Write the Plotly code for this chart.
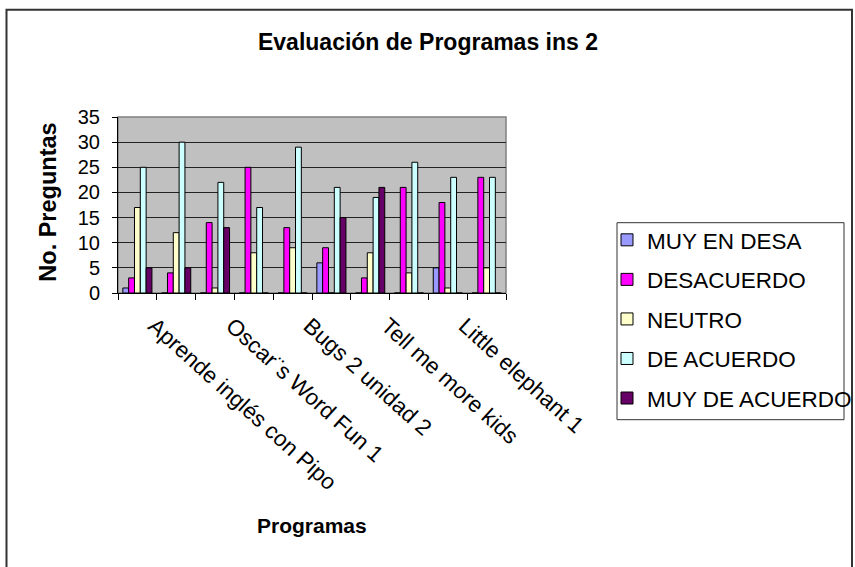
import plotly.graph_objects as go

# ---- data ----
categories = ["Aprende inglés con Pipo", "Programa 2", "Oscar¨s Word Fun 1", "Programa 4",
              "Bugs 2 unidad 2", "Programa 6", "Tell me more kids", "Programa 8",
              "Little elephant 1", "Programa 10"]
tick_labels = ["Aprende inglés con Pipo", "", "Oscar¨s Word Fun 1", "",
               "Bugs 2 unidad 2", "", "Tell me more kids", "",
               "Little elephant 1", ""]
series_names = ["MUY EN DESA", "DESACUERDO", "NEUTRO", "DE ACUERDO", "MUY DE ACUERDO"]
muy_en_desa = [1, 0, 0, 0, 0, 6, 0, 0, 5, 0]
desacuerdo = [3, 4, 14, 25, 13, 9, 3, 21, 18, 23]
neutro = [17, 12, 1, 8, 9, 0, 8, 4, 1, 5]
de_acuerdo = [25, 30, 22, 17, 29, 21, 19, 26, 23, 23]
muy_de_acuerdo = [5, 5, 13, 0, 0, 15, 21, 0, 0, 0]
y_ticks = [0, 5, 10, 15, 20, 25, 30, 35]

series_values = [muy_en_desa, desacuerdo, neutro, de_acuerdo, muy_de_acuerdo]
colors = ["#9999FF", "#FF00FF", "#FFFFCC", "#CCFFFF", "#660066"]

FONT = "Arial, Liberation Sans, sans-serif"
W, H = 855, 567
L, R, T, B = 118, 506, 117.3, 293.3


def px_x(px):
    return (px - L) / (R - L)


def px_y(py):
    return (B - py) / (B - T)


fig = go.Figure()
for name, vals, col in zip(series_names, series_values, colors):
    fig.add_trace(go.Bar(
        x=categories, y=vals, name=name, legendgroup=name,
        marker=dict(color=col, line=dict(color="#000000", width=1)),
    ))

fig.update_layout(
    width=W, height=H,
    margin=dict(l=L, r=W - R, t=T, b=H - B, pad=0, autoexpand=False),
    paper_bgcolor="white",
    plot_bgcolor="#C0C0C0",
    barmode="group", bargap=0.25, bargroupgap=0,
    font=dict(family=FONT, color="#000000"),
    title=dict(text="<b>Evaluación de Programas ins 2</b>", x=428 / W, xanchor="center",
               y=1 - 42 / H, yanchor="middle", yref="container",
               font=dict(size=23, family=FONT, color="#000000")),
    showlegend=True,
    legend=dict(x=px_x(607), y=px_y(420), xanchor="left", yanchor="bottom",
                xref="paper", yref="paper",
                font=dict(size=22.5, family=FONT, color="#000000"),
                bgcolor="rgba(0,0,0,0)", borderwidth=0,
                traceorder="grouped", tracegroupgap=7.3),
    xaxis=dict(type="category", categoryorder="array", categoryarray=categories,
               tickmode="array", tickvals=categories, ticktext=tick_labels,
               tickson="boundaries", ticks="outside", ticklen=6, tickcolor="#000000",
               tickangle=42, ticklabelshift=17, ticklabelstandoff=10,
               tickfont=dict(size=22.5, family=FONT, color="#000000"),
               showline=True, linecolor="#000000", linewidth=1,
               showgrid=False, zeroline=False, automargin=False),
    yaxis=dict(range=[0, 35], tickmode="array", tickvals=y_ticks,
               ticks="outside", ticklen=5, tickcolor="#000000",
               ticklabelstandoff=8,
               tickfont=dict(size=20, family=FONT, color="#000000"),
               showline=True, linecolor="#000000", linewidth=1,
               showgrid=True, gridcolor="#222222", gridwidth=1, zeroline=False,
               automargin=False),
    annotations=[
        dict(text="<b>No. Preguntas</b>", textangle=-90, x=px_x(48), y=px_y(203),
             xref="paper", yref="paper", xanchor="center", yanchor="middle",
             showarrow=False, font=dict(size=23.5, family=FONT, color="#000000")),
        dict(text="<b>Programas</b>", x=px_x(312), y=px_y(526),
             xref="paper", yref="paper", xanchor="center", yanchor="middle",
             showarrow=False, font=dict(size=21, family=FONT, color="#000000")),
    ],
    shapes=[
        # outer chart border
        dict(type="rect", xref="paper", yref="paper",
             x0=px_x(6.5), x1=px_x(852), y0=px_y(571), y1=px_y(10),
             line=dict(color="#333333", width=2), fillcolor="rgba(0,0,0,0)", layer="below"),
        # legend box
        dict(type="rect", xref="paper", yref="paper",
             x0=px_x(617), x1=px_x(844), y0=px_y(420), y1=px_y(223),
             line=dict(color="#333333", width=1), fillcolor="rgba(0,0,0,0)", layer="below"),
        # plot area frame (top/right gray)
        dict(type="rect", xref="paper", yref="paper", x0=0, x1=1, y0=0, y1=1,
             line=dict(color="#808080", width=1.5), fillcolor="rgba(0,0,0,0)", layer="between"),
    ],
)

fig.write_html("out.html", config={"displayModeBar": False},
               post_script="document.body.style.margin='0';")
